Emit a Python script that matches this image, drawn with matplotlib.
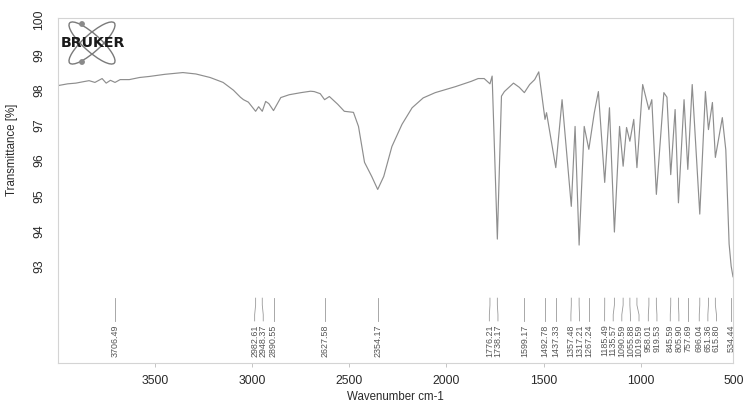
import matplotlib
matplotlib.use("Agg")
import matplotlib.pyplot as plt
import matplotlib.transforms as mtransforms
from matplotlib.patches import Ellipse, Circle

plt.rcParams['font.family'] = ['Liberation Sans', 'DejaVu Sans']

# IR spectrum (wavenumber in cm-1, transmittance in %)
wavenumber = [4000, 3950, 3908, 3870, 3840, 3810, 3773, 3752, 3730, 3706.49, 3680, 3633,
              3580, 3529, 3450, 3357, 3290, 3217, 3150, 3097, 3061, 3045, 3020,
              2982.61, 2967, 2948.37, 2931, 2915, 2890.55, 2853, 2810, 2749, 2700,
              2681, 2650, 2627.58, 2603, 2560, 2526, 2479, 2453, 2422, 2385, 2354.17,
              2323, 2281, 2229, 2177, 2120, 2058, 1954, 1873, 1837, 1806, 1776.21,
              1765, 1738.17, 1717, 1702, 1655, 1625, 1599.17, 1572, 1546, 1525,
              1492.78, 1485, 1437.33, 1405, 1357.48, 1338, 1317.21, 1291, 1267.24,
              1239, 1218, 1185.49, 1161, 1135.57, 1109, 1090.59, 1073, 1055.88, 1036,
              1019.59, 990, 958.01, 943, 919.53, 881, 865, 845.59, 823, 805.90, 777,
              757.69, 735, 696.04, 667, 651.36, 631, 615.80, 580, 562, 545, 534.44, 525]
transmittance = [98.13, 98.18, 98.20, 98.24, 98.27, 98.22, 98.33, 98.20, 98.28, 98.22, 98.30, 98.30,
                 98.36, 98.39, 98.45, 98.50, 98.46, 98.36, 98.22, 98.00, 97.80, 97.73, 97.66,
                 97.40, 97.53, 97.40, 97.68, 97.62, 97.42, 97.79, 97.87, 97.93, 97.97,
                 97.96, 97.90, 97.73, 97.82, 97.60, 97.40, 97.37, 96.97, 95.95, 95.55, 95.18,
                 95.55, 96.40, 97.03, 97.50, 97.78, 97.93, 98.10, 98.25, 98.33, 98.33, 98.18,
                 98.40, 93.77, 97.83, 97.96, 98.20, 98.08, 97.93, 98.16, 98.30, 98.52,
                 97.17, 97.36, 95.80, 97.73, 94.70, 96.97, 93.60, 96.97, 96.32,
                 97.36, 97.96, 95.38, 97.50, 93.97, 96.97, 95.84, 96.94, 96.55, 97.17,
                 95.80, 98.16, 97.45, 97.73, 95.04, 97.93, 97.80, 95.60, 97.45, 94.80, 97.73,
                 95.75, 98.16, 94.48, 97.96, 96.88, 97.65, 96.09, 97.22, 96.30, 93.63, 93.00, 92.70]

# Picked peaks
peak_wavenumbers = [3706.49, 2982.61, 2948.37, 2890.55, 2627.58, 2354.17, 1776.21, 1738.17,
                    1599.17, 1492.78, 1437.33, 1357.48, 1317.21, 1267.24, 1185.49, 1135.57,
                    1090.59, 1055.88, 1019.59, 958.01, 919.53, 845.59, 805.90, 757.69,
                    696.04, 651.36, 615.80, 534.44]

x_ticks = [3500, 3000, 2500, 2000, 1500, 1000, 500]
y_ticks = [93, 94, 95, 96, 97, 98, 99, 100]

W, H = 745, 412
fig = plt.figure(figsize=(W / 100, H / 100), dpi=100)
fig.patch.set_facecolor('white')
ax = fig.add_axes([58 / W, (H - 363) / H, 675 / W, 345 / H])

x_lo, x_hi = 4000, 525
ax.set_xlim(x_lo, x_hi)
ax.set_ylim(90.25, 100.05)

ax.plot(wavenumber, transmittance, color='#8e8e8e', lw=0.85)

for s in ax.spines.values():
    s.set_color('#d4d4d4')
    s.set_linewidth(0.8)

visible_x = [t for t in x_ticks if x_hi <= t <= x_lo]
ax.set_xticks(visible_x)
ax.set_xticklabels([str(t) for t in visible_x])
ax.tick_params(axis='x', direction='out', length=3, width=0.6, color='#bbbbbb',
               pad=5.5, labelsize=8.8, labelcolor='#2a2a2a')
# the 500 label sits just past the right end of the frame
blend = mtransforms.blended_transform_factory(ax.transData, ax.transAxes)
edge_blend = mtransforms.offset_copy(blend, fig=fig, x=-4, y=0, units='dots')
for t in x_ticks:
    if t < x_hi:
        ax.text(t, -0.035, str(t), transform=edge_blend, ha='center', va='top',
                fontsize=8.8, color='#2a2a2a', clip_on=False)

ax.set_yticks(y_ticks)
ax.set_yticklabels([str(t) for t in y_ticks], rotation=90, va='center')
ax.tick_params(axis='y', length=0, pad=9.0, labelsize=8.8, labelcolor='#2a2a2a')

ax.set_xlabel('Wavenumber cm-1', fontsize=8.3, color='#2a2a2a')
ax.xaxis.set_label_coords(0.5, -0.08)
ax.set_ylabel('Transmittance [%]', fontsize=8.3, color='#2a2a2a')
ax.yaxis.set_label_coords(-0.059, 0.617)

# Peak labels, spread apart so neighbouring numbers do not overlap
px_per_unit = 675 / (x_lo - x_hi)
gap = 8.6 / px_per_unit
pos = sorted(peak_wavenumbers, reverse=True)
for _ in range(800):
    for i in range(len(pos) - 1):
        d = pos[i] - pos[i + 1]
        if d < gap:
            shift = (gap - d) / 2
            pos[i] += shift
            pos[i + 1] -= shift

y_top, y_bend1, y_bend2, y_bot = 0.188, 0.168, 0.140, 0.122
for wn, lx in zip(sorted(peak_wavenumbers, reverse=True), pos):
    ax.plot([wn, wn, lx, lx], [y_top, y_bend1, y_bend2, y_bot], transform=blend,
            color='#9a9a9a', lw=0.6, clip_on=False)
    ax.text(lx, y_bot - 0.01, f'{wn:.2f}', transform=blend, rotation=90,
            ha='center', va='top', fontsize=6.4, color='#555555', clip_on=False)

# Bruker logo in the upper left corner
lax = fig.add_axes([60 / W, (H - 68) / H, 70 / W, 50 / H])
lax.set_xlim(0, 70)
lax.set_ylim(50, 0)
lax.axis('off')
for ang in (42, -42):
    lax.add_patch(Ellipse((32, 25), 60, 17, angle=ang, fill=False,
                          edgecolor='#7a7a7a', lw=1.0))
for cx, cy in ((22, 6), (22, 44)):
    lax.add_patch(Circle((cx, cy), 2.2, color='#8a8a8a'))
lax.text(32.5, 25, 'BRUKER', ha='center', va='center', fontsize=10.3,
         fontweight='bold', family='DejaVu Sans', color='#1a1a1a')

fig.savefig('out.png', dpi=100, facecolor='white')
